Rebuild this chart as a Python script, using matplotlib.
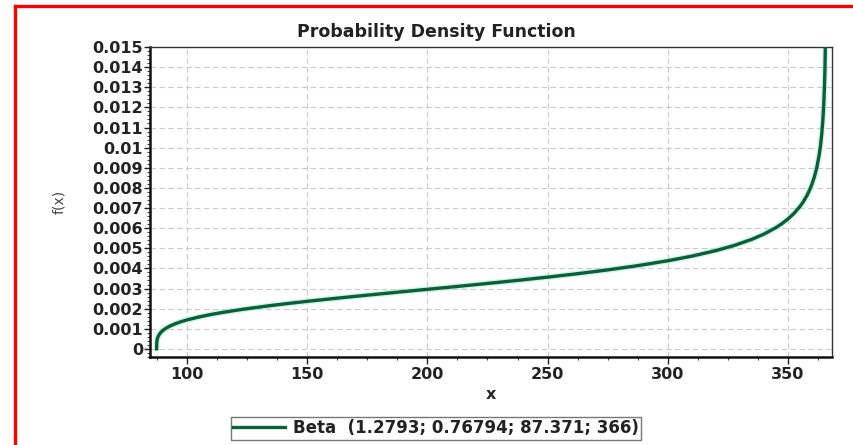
import matplotlib.pyplot as plt
from matplotlib.lines import Line2D
from matplotlib.ticker import MultipleLocator

plt.rcParams['font.family'] = ['DejaVu Sans']

# fitted Beta density
x_vals = [87.371, 87.4, 87.5, 87.6, 87.8, 88.0, 88.5, 89.0, 90.0, 91.0,
          92.5, 95.0, 97.5, 100.0, 105.0, 110.0, 115.0, 120.0, 125.0,
          135.0, 140.0, 150.0, 162.5, 175.0, 187.5, 200.0, 212.5, 225.0,
          237.5, 250.0, 262.5, 275.0, 287.5, 300.0, 310.0, 320.0, 327.5,
          335.0, 340.0, 345.0, 347.5, 350.0, 352.5, 355.0, 356.5, 358.0,
          359.0, 360.0, 361.0, 362.0, 363.0, 363.5, 364.0, 364.5, 364.8,
          365.0, 365.2, 365.4, 365.6]
fx_vals = [0.0, 0.000261, 0.000396, 0.000465, 0.000554, 0.000617, 0.000727,
           0.000805, 0.000922, 0.001009, 0.001113, 0.001246, 0.001352,
           0.001441, 0.001588, 0.001711, 0.001817, 0.001912, 0.001999,
           0.002157, 0.002229, 0.002365, 0.002522, 0.002672, 0.002818,
           0.002961, 0.003105, 0.003253, 0.003405, 0.003566, 0.003738,
           0.003926, 0.004137, 0.004380, 0.004609, 0.004884, 0.005135,
           0.005447, 0.005705, 0.006028, 0.006225, 0.006456, 0.006733,
           0.007079, 0.007336, 0.007646, 0.007895, 0.008191, 0.008553,
           0.009017, 0.009649, 0.010072, 0.010613, 0.011350, 0.011958,
           0.012478, 0.013143, 0.014053, 0.015443]
legend_label = 'Beta  (1.2793; 0.76794; 87.371; 366)'

x_ticks = [100, 150, 200, 250, 300, 350]
y_ticks = [0, 0.001, 0.002, 0.003, 0.004, 0.005, 0.006, 0.007, 0.008,
           0.009, 0.01, 0.011, 0.012, 0.013, 0.014, 0.015]
y_tick_labels = ['0', '0.001', '0.002', '0.003', '0.004', '0.005', '0.006',
                 '0.007', '0.008', '0.009', '0.01', '0.011', '0.012', '0.013',
                 '0.014', '0.015']

fig = plt.figure(figsize=(8.54, 4.45), dpi=100)
ax = fig.add_axes([0.1756, 0.1978, 0.7986, 0.6966])

# soft halo under the curve, then the curve itself
ax.plot(x_vals, fx_vals, color='#a6e6cf', lw=4.4, alpha=0.5,
        solid_capstyle='butt', zorder=2)
line, = ax.plot(x_vals, fx_vals, color='#07603a', lw=2.4, zorder=3,
                label=legend_label)

ax.set_xlim(84.6, 368.3)
ax.set_ylim(-0.0004, 0.015)
ax.set_xticks(x_ticks)
ax.set_yticks(y_ticks)
ax.set_yticklabels(y_tick_labels)
ax.xaxis.set_minor_locator(MultipleLocator(12.5))
ax.yaxis.set_minor_locator(MultipleLocator(0.0002))

ax.tick_params(axis='both', which='major', direction='out', labelsize=11.5,
               colors='#222222', width=1.0)
ax.tick_params(axis='x', which='major', length=5, pad=2)
ax.tick_params(axis='y', which='major', length=4, pad=1)
ax.tick_params(axis='both', which='minor', direction='out', length=2.5,
               width=0.8, color='#444444')
for lab in ax.get_xticklabels() + ax.get_yticklabels():
    lab.set_fontweight('bold')
    lab.set_color('#222222')

ax.grid(True, which='major', color='#c9c9c9', linestyle=(0, (5, 3)), lw=0.8)
ax.set_axisbelow(True)

for side in ['left', 'bottom']:
    ax.spines[side].set_linewidth(1.8)
    ax.spines[side].set_color('#111111')
for side in ['top', 'right']:
    ax.spines[side].set_linewidth(1.0)
    ax.spines[side].set_color('#333333')

# title sits centred on the figure, like the legend below
fig.text(0.5105, 0.928, 'Probability Density Function', ha='center',
         va='center', fontsize=12.5, fontweight='bold', color='#222222')
ax.set_xlabel('x', fontsize=11.5, fontweight='bold', color='#222222',
              labelpad=4)
ax.set_ylabel('f(x)', fontsize=10, color='#444444', labelpad=19)

leg = fig.legend(handles=[line], loc='center', bbox_to_anchor=(0.5105, 0.038),
                 frameon=True, fancybox=False, fontsize=12, handlelength=3.1,
                 borderpad=0.15, handletextpad=0.5)
leg.get_frame().set_edgecolor('#555555')
leg.get_frame().set_linewidth(1.0)
for txt in leg.get_texts():
    txt.set_color('#222222')
    txt.set_fontweight('bold')

# red frame along the top and left edges
fig.add_artist(Line2D([0.0176, 0.0176], [0.0, 0.9854], color='red', lw=2.4,
                      transform=fig.transFigure))
fig.add_artist(Line2D([0.0176, 1.0], [0.9854, 0.9854], color='red', lw=2.4,
                      transform=fig.transFigure))

fig.savefig('out.png', dpi=100)
